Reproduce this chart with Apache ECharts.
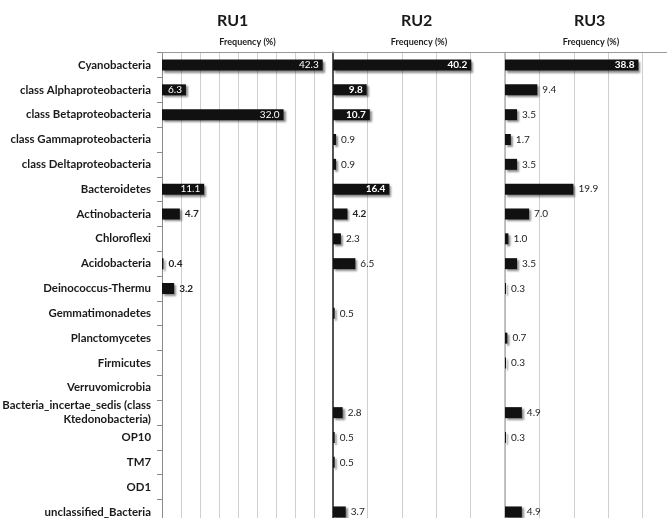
<!DOCTYPE html>
<html><head><meta charset="utf-8">
<script src="https://cdn.jsdelivr.net/npm/echarts@6/dist/echarts.min.js"></script>
<style>html,body{margin:0;padding:0;background:#fff}#chart{width:667px;height:518px}</style>
</head><body><div id="chart"></div>
<script>
// Phylum / class composition of the three RU libraries
const categories = [
  'Cyanobacteria', 'class Alphaproteobacteria', 'class Betaproteobacteria',
  'class Gammaproteobacteria', 'class Deltaproteobacteria', 'Bacteroidetes',
  'Actinobacteria', 'Chloroflexi', 'Acidobacteria', 'Deinococcus-Thermu',
  'Gemmatimonadetes', 'Planctomycetes', 'Firmicutes', 'Verruvomicrobia',
  'Bacteria_incertae_sedis (class\nKtedonobacteria)', 'OP10', 'TM7', 'OD1',
  'unclassified_Bacteria'
];
const panelNames = ['RU1', 'RU2', 'RU3'];
const ru1 = [42.3, 6.3, 32.0, null, null, 11.1, 4.7, null, 0.4, 3.2, null, null, null, null, null, null, null, null, null];
const ru2 = [40.2, 9.8, 10.7, 0.9, 0.9, 16.4, 4.2, 2.3, 6.5, null, 0.5, null, null, null, 2.8, 0.5, 0.5, null, 3.7];
const ru3 = [38.8, 9.4, 3.5, 1.7, 3.5, 19.9, 7.0, 1.0, 3.5, 0.3, null, 0.7, 0.3, null, 4.9, 0.3, null, null, 4.9];
const axisMax = [45, 50, 50];
const axisStep = [5, 10, 10];
const axisTitle = 'Frequency (%)';

const FONT = 'Lato';
const seriesValues = [ru1, ru2, ru3];
// bars at or above this value carry their label inside the bar
const insideFrom = [6, 9, 30];
const insideBold = [false, true, true];
const outsideBold = [true, false, false];

const gridLeft = [162, 333, 505];
const gridWidth = [171, 172, 172];
const gridTop = 52.6;
const band = 24.83;

const chart = echarts.init(document.getElementById('chart'), null, {renderer: 'canvas'});

const grids = [], xAxes = [], yAxes = [], series = [];
const yLineColor = ['#8a8a8a', '#555', '#b0b0b0'];
const yLineWidth = [1, 2, 1.5];

for (let i = 0; i < 3; i++) {
  grids.push({left: gridLeft[i], width: gridWidth[i], top: gridTop, height: band * categories.length,
    containLabel: false, outerBoundsMode: 'none'});
  xAxes.push({
    type: 'value', gridIndex: i, position: 'top', min: 0, max: axisMax[i], interval: axisStep[i],
    name: axisTitle, nameLocation: 'middle', nameGap: 6,
    nameTextStyle: {fontFamily: FONT, fontWeight: 'bold', fontSize: 9, color: '#222'},
    axisLine: {show: true, lineStyle: {color: '#9a9a9a', width: 1}},
    axisTick: {show: false}, axisLabel: {show: false},
    splitLine: {show: true, lineStyle: {color: '#cfcfcf', width: 1}}
  });
  yAxes.push({
    type: 'category', gridIndex: i, inverse: true, data: categories,
    axisLine: {show: true, lineStyle: {color: yLineColor[i], width: yLineWidth[i]}},
    axisTick: {show: i === 0, length: 5, lineStyle: {color: '#8a8a8a'}},
    axisLabel: {show: i === 0, margin: 11, fontFamily: FONT, fontWeight: 'bold', fontSize: 11.4, color: '#1a1a1a', lineHeight: 14, align: 'right'},
    splitLine: {show: false}
  });
  const vals = seriesValues[i];
  series.push({
    type: 'bar', xAxisIndex: i, yAxisIndex: i, barWidth: 11,
    itemStyle: {color: '#111', shadowColor: 'rgba(0,0,0,0.45)', shadowBlur: 2, shadowOffsetX: 2, shadowOffsetY: 2},
    data: vals.map((v, k) => {
      if (v === null) return null;
      const inside = v >= insideFrom[i];
      const bold = inside ? insideBold[i] : (outsideBold[i] || (i === 1 && k === 6));
      return {
        value: v,
        label: {
          show: true,
          position: inside ? 'insideRight' : 'right',
          distance: inside ? 4 : 5,
          color: inside ? '#fff' : '#222',
          fontWeight: bold ? 'bold' : 'normal',
          fontFamily: FONT, fontSize: 10,
          formatter: p => p.value.toFixed(1)
        }
      };
    })
  });
}

const titleX = [235, 419, 592];
chart.setOption({
  animation: false,
  grid: grids, xAxis: xAxes, yAxis: yAxes, series: series,
  graphic: panelNames.map((n, i) => ({
    type: 'text', left: titleX[i] - 18, top: 13,
    style: {text: n, fontFamily: FONT, fontWeight: 'bold', fontSize: 16, fill: '#1a1a1a', width: 36, align: 'center'}
  }))
});
</script></body></html>
